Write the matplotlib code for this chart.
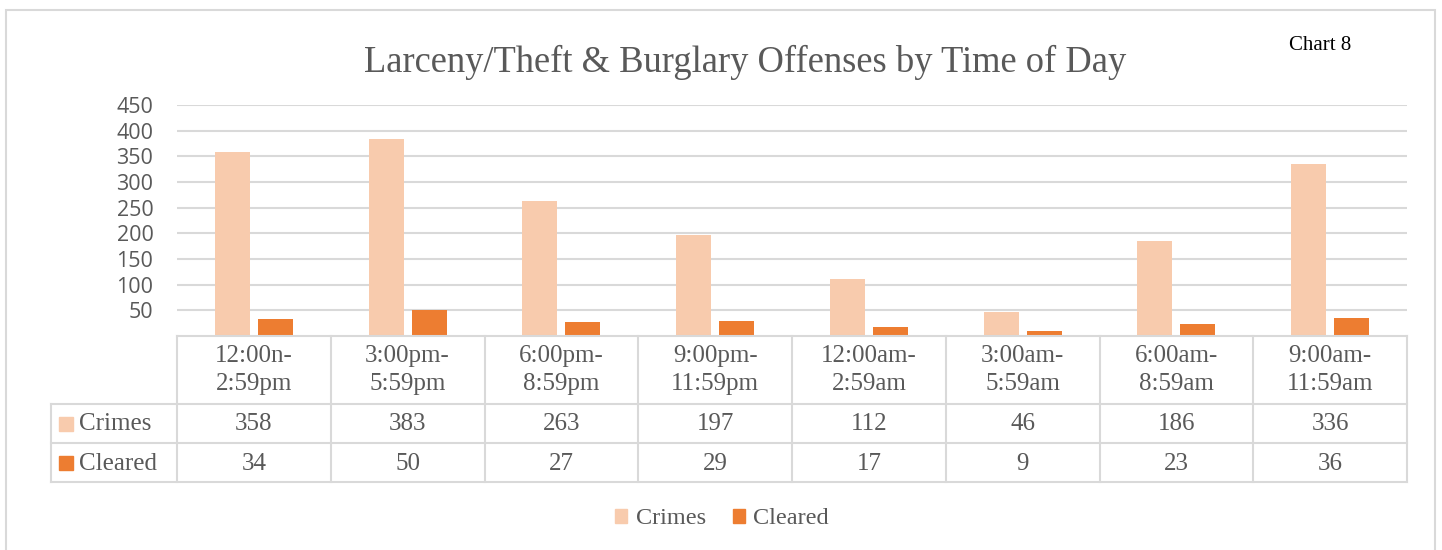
import matplotlib.pyplot as plt
from matplotlib.patches import Rectangle
import numpy as np

periods = ['12:00n-\n2:59pm', '3:00pm-\n5:59pm', '6:00pm-\n8:59pm', '9:00pm-\n11:59pm',
           '12:00am-\n2:59am', '3:00am-\n5:59am', '6:00am-\n8:59am', '9:00am-\n11:59am']
crimes = [358, 383, 263, 197, 112, 46, 186, 336]
cleared = [34, 50, 27, 29, 17, 9, 23, 36]
yticks = [50, 100, 150, 200, 250, 300, 350, 400, 450]

c_crimes = '#F8CBAD'
c_cleared = '#ED7D31'
grid_c = '#D9D9D9'
txt_c = '#595959'
serif = 'Liberation Serif'
sans = 'Open Sans'

W, H = 1442, 550
fig = plt.figure(figsize=(W / 100, H / 100), dpi=100)

def fx(px):
    return px / W

def fy(py):
    return 1 - py / H

# outer chart border
fig.patches.append(Rectangle((fx(6), fy(600)), fx(1435) - fx(6), fy(10) - fy(600),
                             transform=fig.transFigure, fill=False, edgecolor=grid_c, lw=1.5))

fig.text(fx(745), fy(62), 'Larceny/Theft & Burglary Offenses by Time of Day',
         ha='center', va='center', fontsize=26.3, color=txt_c, family=serif)
fig.text(fx(1320), fy(45), 'Chart 8', ha='center', va='center', fontsize=15,
         color='black', family=serif)

# bar area
ax = fig.add_axes([fx(177), fy(336), fx(1407) - fx(177), fy(105) - fy(336)])
x = np.arange(len(crimes))
bw = 0.227
ax.bar(x - 0.14, crimes, bw, color=c_crimes, zorder=3)
ax.bar(x + 0.14, cleared, bw, color=c_cleared, zorder=3)
ax.set_xlim(-0.5, len(crimes) - 0.5)
ax.set_ylim(0, 450)
ax.set_yticks(yticks)
ax.set_xticks([])
for lbl in ax.get_yticklabels():
    lbl.set_family(sans)
ax.tick_params(axis='y', length=0, pad=17, labelsize=15.5, labelcolor=txt_c)
ax.grid(axis='y', color=grid_c, lw=1.5, zorder=0)
for s in ax.spines.values():
    s.set_visible(False)

# data table below
tb = fig.add_axes([fx(51), fy(482), fx(1407) - fx(51), fy(336) - fy(482)])
left = -0.5 - 126 / 153.75
tb.set_xlim(left, len(crimes) - 0.5)
tb.set_ylim(146, 0)
tb.axis('off')
lk = dict(color=grid_c, lw=1.5, clip_on=False)
tb.plot([-0.5, len(crimes) - 0.5], [0, 0], **lk)
for yy in [68, 107, 146]:
    tb.plot([left, len(crimes) - 0.5], [yy, yy], **lk)
for i in range(len(crimes) + 1):
    tb.plot([i - 0.5, i - 0.5], [0, 146], **lk)
tb.plot([left, left], [68, 146], **lk)

tk = dict(ha='center', va='center', fontsize=18, color=txt_c, family=serif)
for i in range(len(crimes)):
    tb.text(i, 34, periods[i], linespacing=1.3, **tk)
    tb.text(i, 88.5, str(crimes[i]), **tk)
    tb.text(i, 127.5, str(cleared[i]), **tk)

for yy, name, col in [(87.5, 'Crimes', c_crimes), (126.5, 'Cleared', c_cleared)]:
    tb.plot([left + 0.1], [yy], marker='s', ms=10, color=col, clip_on=False)
    tb.text(left + 0.18, yy + 1, name, ha='left', va='center', fontsize=18,
            color=txt_c, family=serif)

# legend
handles = [Rectangle((0, 0), 1, 1, color=c_crimes), Rectangle((0, 0), 1, 1, color=c_cleared)]
fig.legend(handles, ['Crimes', 'Cleared'], loc='center', bbox_to_anchor=(fx(722), fy(519)),
           ncol=2, frameon=False, handlelength=0.5, handleheight=0.5, handletextpad=0.35,
           columnspacing=1.1, prop={'family': serif, 'size': 17.5}, labelcolor=txt_c)

fig.savefig('out.png', dpi=100)
